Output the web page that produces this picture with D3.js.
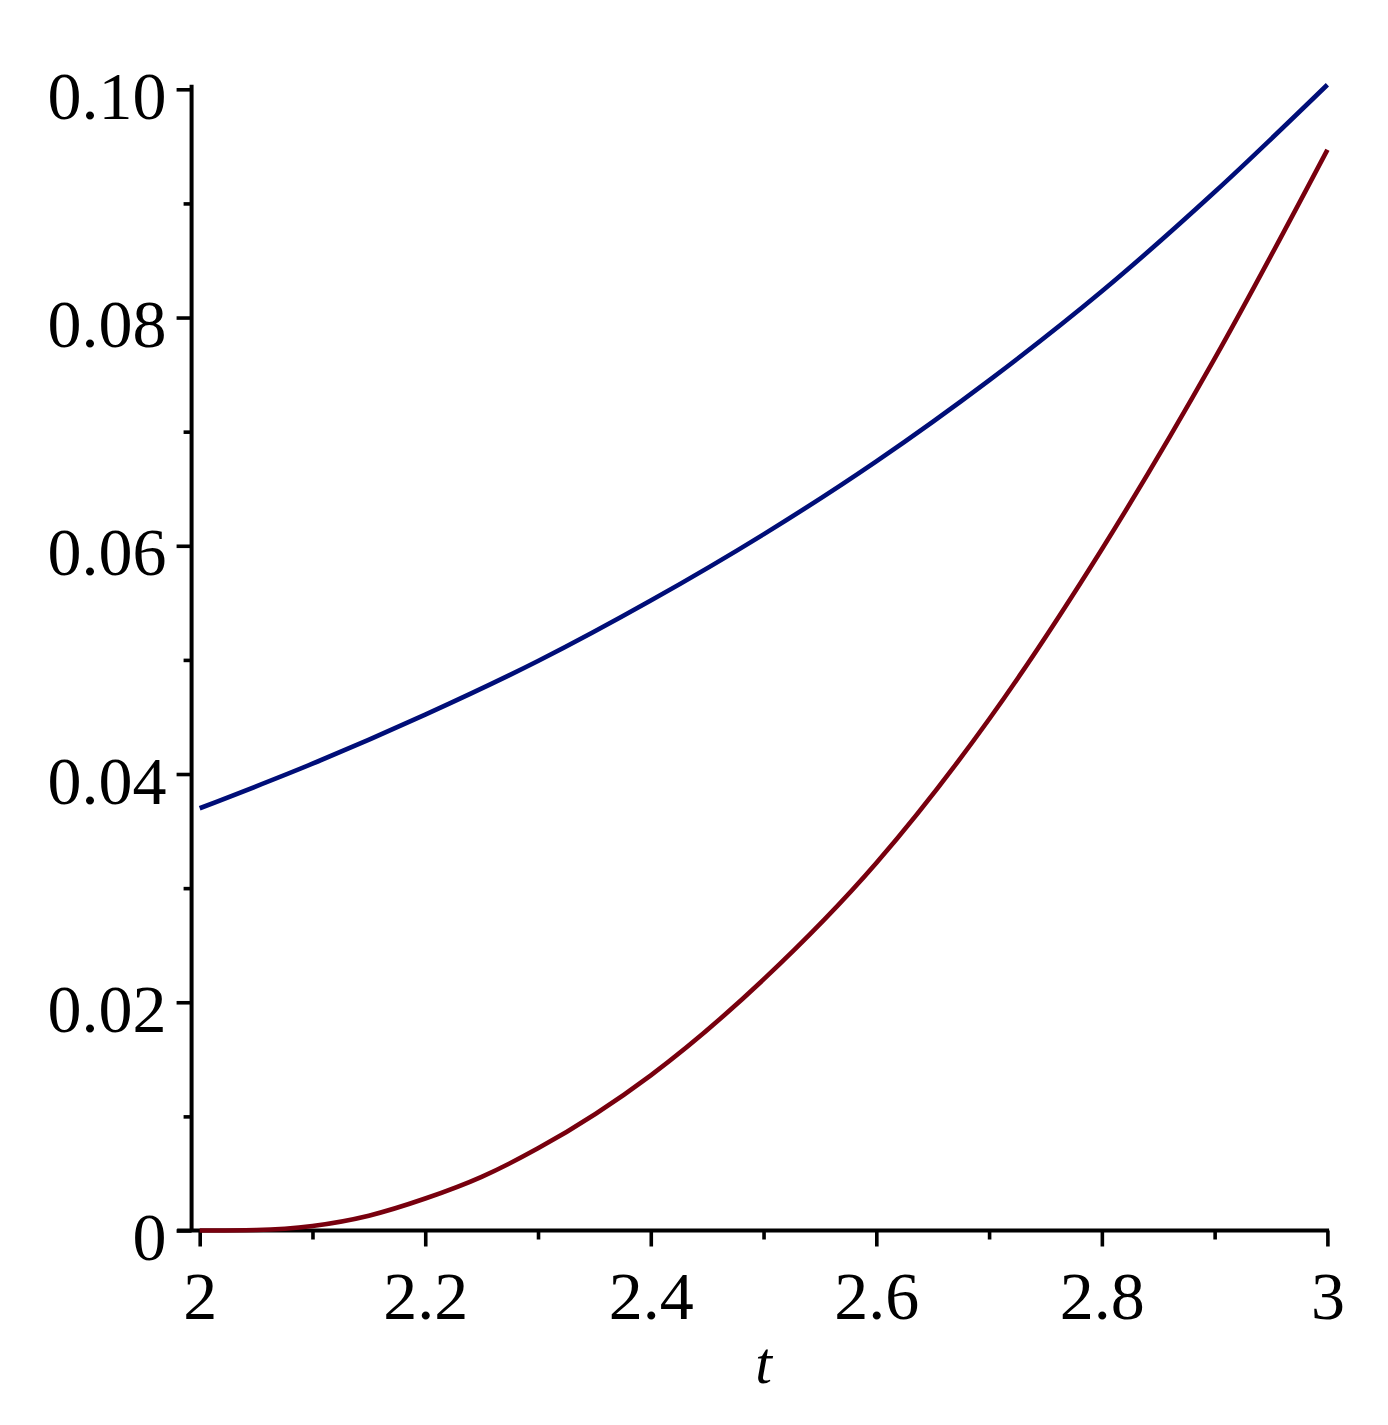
<!DOCTYPE html>
<html>
<head>
<meta charset="utf-8">
<script src="https://cdn.jsdelivr.net/npm/d3@7"></script>
<style>
  html, body { margin: 0; padding: 0; background: #ffffff; }
  svg { display: block; }
</style>
</head>
<body>
<div id="chart"></div>
<script>
// ---- data ----
const xMajorTicks = [2, 2.2, 2.4, 2.6, 2.8, 3];
const xMinorTicks = [2.1, 2.3, 2.5, 2.7, 2.9];
const xTickLabels = ["2", "2.2", "2.4", "2.6", "2.8", "3"];
const yMajorTicks = [0, 0.02, 0.04, 0.06, 0.08, 0.10];
const yMinorTicks = [0.01, 0.03, 0.05, 0.07, 0.09];
const yTickLabels = ["0", "0.02", "0.04", "0.06", "0.08", "0.10"];
const xLabel = "t";

const redT = [2.0, 2.05, 2.1, 2.15, 2.2, 2.25, 2.3, 2.4, 2.5, 2.6, 2.7, 2.8, 2.9, 3.0];
const redV = [0, 0.00005, 0.0004, 0.0013, 0.0028, 0.0047, 0.0072, 0.0136, 0.0220, 0.0322, 0.0448, 0.0597, 0.0764, 0.0947];

const blueT = [2.0, 2.1, 2.2, 2.3, 2.4, 2.5, 2.6, 2.7, 2.8, 2.9, 3.0];
const blueV = [0.0370, 0.0409, 0.0452, 0.0499, 0.0552, 0.0610, 0.0674, 0.0745, 0.0823, 0.0910, 0.1004];

// ---- layout ----
const W = 1388, H = 1425;
const font = "'Liberation Serif', 'Times New Roman', serif";

const svg = d3.select("#chart").append("svg")
  .attr("width", W).attr("height", H);

const x = d3.scaleLinear().domain([2, 3]).range([199.7, 1327.4]);
const y = d3.scaleLinear().domain([0, 0.10]).range([1230.5, 89.3]);

const axisColor = "#000000";

// x axis line (extends slightly left of t=2, as in the reference)
svg.append("line")
  .attr("x1", x(1.98)).attr("x2", x(3.0015))
  .attr("y1", y(0)).attr("y2", y(0))
  .attr("stroke", axisColor).attr("stroke-width", 4);

// y axis line
const yAxisX = x(1.9928);
svg.append("line")
  .attr("x1", yAxisX).attr("x2", yAxisX)
  .attr("y1", y(0)).attr("y2", y(0.1004))
  .attr("stroke", axisColor).attr("stroke-width", 4);

// x axis ticks
const gxMajor = svg.append("g").attr("transform", `translate(0,${y(0)})`)
  .call(d3.axisBottom(x).tickValues(xMajorTicks).tickSize(16)
    .tickFormat((d, i) => xTickLabels[i]));
const gxMinor = svg.append("g").attr("transform", `translate(0,${y(0)})`)
  .call(d3.axisBottom(x).tickValues(xMinorTicks).tickSize(9).tickFormat(""));

// y axis ticks
const gyMajor = svg.append("g").attr("transform", `translate(${yAxisX},0)`)
  .call(d3.axisLeft(y).tickValues(yMajorTicks).tickSize(15)
    .tickFormat((d, i) => yTickLabels[i]));
const gyMinor = svg.append("g").attr("transform", `translate(${yAxisX},0)`)
  .call(d3.axisLeft(y).tickValues(yMinorTicks).tickSize(8).tickFormat(""));

[gxMajor, gxMinor, gyMajor, gyMinor].forEach(g => {
  g.select(".domain").remove();
  g.selectAll(".tick line").attr("stroke", axisColor).attr("stroke-width", 3.6);
});

gxMajor.selectAll(".tick text")
  .attr("font-family", font).attr("font-size", 68).attr("fill", "#000")
  .attr("y", 88).attr("dy", 0).attr("text-anchor", "middle");

gyMajor.selectAll(".tick text")
  .attr("font-family", font).attr("font-size", 68).attr("fill", "#000")
  .attr("x", -25).attr("dy", 29).attr("text-anchor", "end");

// axis title
svg.append("text")
  .attr("x", x(2.5)).attr("y", 1383)
  .attr("text-anchor", "middle")
  .attr("font-family", font).attr("font-style", "italic")
  .attr("font-size", 60).attr("fill", "#000")
  .text(xLabel);

// curves
const line = d3.line().x(d => x(d[0])).y(d => y(d[1])).curve(d3.curveMonotoneX);

svg.append("path")
  .datum(redT.map((t, i) => [t, redV[i]]))
  .attr("d", line)
  .attr("fill", "none").attr("stroke", "#78000E").attr("stroke-width", 4.6);

svg.append("path")
  .datum(blueT.map((t, i) => [t, blueV[i]]))
  .attr("d", line)
  .attr("fill", "none").attr("stroke", "#000E78").attr("stroke-width", 4.6);
</script>
</body>
</html>
